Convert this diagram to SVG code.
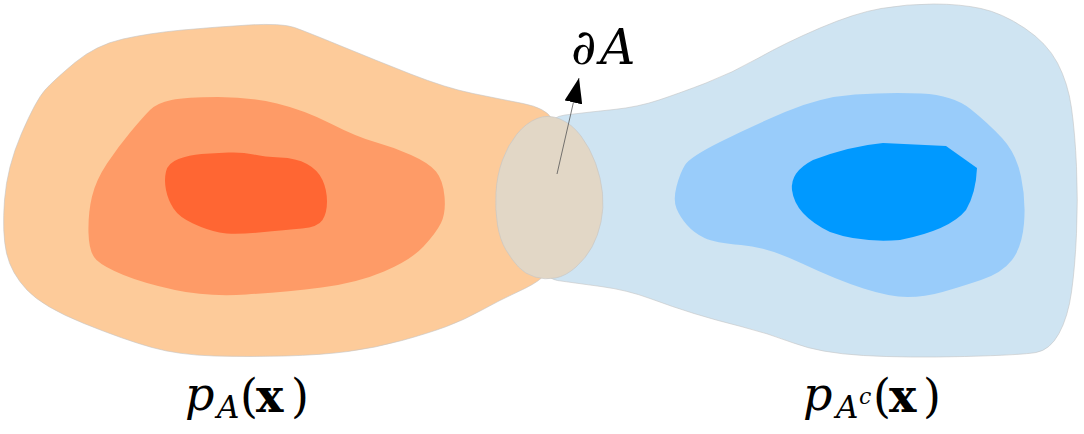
<svg xmlns="http://www.w3.org/2000/svg" width="1084" height="434" viewBox="0 0 1084 434">
<style>
.outline{stroke:#c4c4c4;stroke-width:0.6}
.lvl{stroke:none}
.it{font-style:italic}
.bf{font-weight:bold}
.conn{stroke:#555;stroke-width:0.8;fill:none}
</style>
<defs>
<marker id="head" markerUnits="userSpaceOnUse" markerWidth="26" markerHeight="18" refX="25" refY="9" orient="auto" viewBox="0 0 26 18">
<path d="M0,0 L25,9 L0,18 Z" fill="#000"/>
</marker>
</defs>
<rect width="1084" height="434" fill="#fff"/>
<g id="region-A">
<path class="outline" fill="#FDCB9A" d="M 75,62.5 Q 96,45 123,39 Q 150,33 182.5,30 Q 215,27 248.5,25 Q 282,23 294.5,27.5 Q 307,32 341,46 Q 375,60 410.5,74 Q 446,88 473,93.5 Q 500,99 523,103.5 Q 546,108 552,119 Q 558,130 560,165 Q 562,200 555,236 Q 548,272 541.5,278 Q 535,284 517.5,292 Q 500,300 482,310 Q 464,320 446.5,326.5 Q 429,333 402,340.5 Q 375,348 348,351.5 Q 321,355 285.5,356 Q 250,357 214.5,356 Q 179,355 152,347.5 Q 125,340 84,323.5 Q 43,307 27,290 Q 11,273 6.5,253 Q 2,233 4.5,200 Q 7,167 21.5,133.5 Q 36,100 45,90 Q 54,80 75,62.5 Z"/>
<path class="lvl" fill="#FE9B67" d="M 171.5,100 Q 186,97 218,97 Q 250,97 277,103.5 Q 304,110 330.5,123.5 Q 357,137 375,142 Q 393,147 411,155 Q 429,163 436,171.5 Q 443,180 444.5,196.5 Q 446,213 441,223 Q 436,233 423.5,246.5 Q 411,260 384,271.5 Q 357,283 321.5,287.5 Q 286,292 246.5,294.5 Q 207,297 175,290 Q 143,283 123.5,275 Q 104,267 96.5,260 Q 89,253 88.5,233 Q 88,213 92,196.5 Q 96,180 107,163.5 Q 118,147 130.5,132 Q 143,117 150,110 Q 157,103 171.5,100 Z"/>
<path class="lvl" fill="#FF6633" d="M 178.5,159 Q 189,155 201.5,154 Q 214,153 228.5,152.5 Q 243,152 253.5,154.5 Q 264,157 280,157.5 Q 296,158 307,164 Q 318,170 322.5,180 Q 327,190 327,201.5 Q 327,213 322.5,220 Q 318,227 302,228.5 Q 286,230 259,232.5 Q 232,235 219.5,232.5 Q 207,230 193,223.5 Q 179,217 173.5,208.5 Q 168,200 166,190 Q 164,180 166,171.5 Q 168,163 178.5,159 Z"/>
</g>
<g id="region-Ac">
<path class="outline" fill="#CFE4F2" d="M 565,115 Q 590,112 614,109.5 Q 638,107 659,100 Q 680,93 706,83 Q 732,73 758.5,58 Q 785,43 820,28 Q 855,13 881,8.5 Q 907,4 933.5,4 Q 960,4 981,8.5 Q 1002,13 1024.5,28 Q 1047,43 1057.5,63 Q 1068,83 1071.5,108 Q 1075,133 1076.5,166.5 Q 1078,200 1076.5,233.5 Q 1075,267 1071.5,292 Q 1068,317 1059,333.5 Q 1050,350 1036,352.5 Q 1022,355 964.5,356.5 Q 907,358 863.5,355.5 Q 820,353 793.5,343 Q 767,333 741,326.5 Q 715,320 694,313.5 Q 673,307 650,298.5 Q 627,290 601,286.5 Q 575,283 557.5,280.5 Q 540,278 535,239 Q 530,200 535,159 Q 540,118 565,115 Z"/>
<path class="lvl" fill="#99CCFA" d="M 720,142 Q 750,127 785,112 Q 820,97 855,94.5 Q 890,92 921.5,93.5 Q 953,95 970.5,109 Q 988,123 1002,138 Q 1016,153 1021,176.5 Q 1026,200 1024,223.5 Q 1022,247 1012,260 Q 1002,273 981,280 Q 960,287 942.5,292 Q 925,297 907.5,297 Q 890,297 863.5,288.5 Q 837,280 802,263.5 Q 767,247 741,245 Q 715,243 704.5,238 Q 694,233 687,225 Q 680,217 676.5,208.5 Q 673,200 676.5,186.5 Q 680,173 685,165 Q 690,157 720,142 Z"/>
<path class="lvl" fill="#0099FF" d="M 792,190 Q 790,172 813,160 Q 850,146 883,143 L 946,146 L 977,168 Q 976,193 966,210 Q 950,230 900,240 Q 860,243 830,232 Q 795,215 792,190 Z"/>
</g>
<g id="boundary">
<path class="outline" fill="#E2D7C6" d="M 560,119 Q 572,124 581,136 Q 590,148 595.5,163 Q 601,178 602.5,193 Q 604,208 601,222 Q 598,236 592,247 Q 586,258 576,267 Q 566,276 555.5,278 Q 545,280 535,277 Q 525,274 518.5,267 Q 512,260 506,250 Q 500,240 497.5,225 Q 495,210 496,192.5 Q 497,175 502.5,160 Q 508,145 517,134 Q 526,123 537,118.5 Q 548,114 560,119 Z"/>
</g>
<g id="connectors">
<line class="conn" x1="557" y1="174" x2="579" y2="78" marker-end="url(#head)"/>
</g>
<g id="labels" font-family="DejaVu Serif" fill="#000">
<text y="64" font-size="49"><tspan class="it" x="571">∂</tspan><tspan class="it" x="600">A</tspan></text>
<text y="410" font-size="46"><tspan class="it" x="185">p</tspan><tspan class="it" x="217" y="418" font-size="31">A</tspan><tspan x="240" y="412">(</tspan><tspan class="bf" x="256">x</tspan><tspan x="291">)</tspan></text>
<text y="410" font-size="46"><tspan class="it" x="803">p</tspan><tspan class="it" x="836" y="418" font-size="31">A</tspan><tspan class="it" x="859" y="404" font-size="22">c</tspan><tspan x="873" y="412">(</tspan><tspan class="bf" x="889">x</tspan><tspan x="923">)</tspan></text>
</g>
</svg>
